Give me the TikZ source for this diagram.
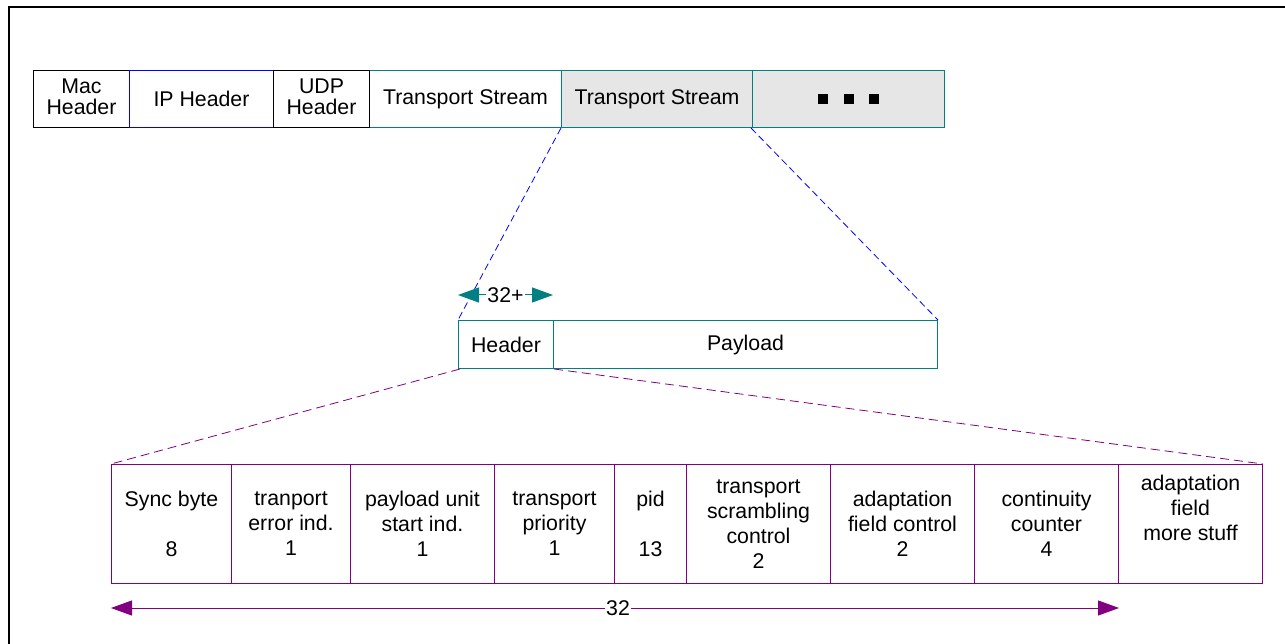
\documentclass[tikz,border=0pt]{standalone}
\usepackage{fontspec}
\setmainfont{Liberation Sans}
\usetikzlibrary{arrows.meta}
\definecolor{tealc}{RGB}{0,128,128}
\definecolor{purp}{RGB}{128,0,128}
\definecolor{blu}{RGB}{0,0,255}
\definecolor{grayf}{RGB}{230,230,230}
\begin{document}
\begin{tikzpicture}[x=1pt,y=-1pt,
  cell/.style={draw, line width=1pt, inner sep=0pt, anchor=north west, align=center,
    font=\fontsize{21.3}{21}\selectfont},
  topcell/.style={cell, minimum height=57pt},
  midcell/.style={cell, draw=tealc, minimum height=48pt},
  botcell/.style={cell, draw=purp, minimum height=119pt, font=\fontsize{21.3}{25}\selectfont},
  tsbox/.style={topcell, draw=tealc},
  zoomblue/.style={draw=blu, dashed, dash pattern=on 7pt off 4pt, line width=0.8pt},
  zoompurp/.style={draw=purp, dashed, dash pattern=on 9pt off 5pt, line width=0.8pt},
  dimarrow/.style={line width=1pt, {Triangle[length=21pt,width=15pt]}-{Triangle[length=21pt,width=15pt]}},
  dimlabel/.style={fill=white, inner sep=1pt, font=\fontsize{21.3}{21}\selectfont}
]
\useasboundingbox (0,0) rectangle (1285,644);
\fill[white] (0,0) rectangle (1285,644);
\draw[line width=2pt] (9,660) -- (9,7) -- (1300,7);

% top row
\node[tsbox, minimum width=192pt] (ts1) at (369,70) {Transport Stream};
\node[tsbox, fill=grayf, minimum width=191pt] (ts2) at (561,70) {Transport Stream};
\node[tsbox, fill=grayf, minimum width=192pt] (dots) at (752,70)
  {\rule{10pt}{10pt}\hspace{15.5pt}\rule{10pt}{10pt}\hspace{15.5pt}\rule{10pt}{10pt}};
\node[topcell, minimum width=96pt] (mac) at (33,70) {Mac\\Header\vphantom{p}};
\node[topcell, draw=blu, minimum width=144pt] (ip) at (129,70) {IP Header};
\node[topcell, minimum width=96pt] (udp) at (273,70) {UDP\\Header\vphantom{p}};

% middle row
\node[midcell, minimum width=95pt] (hdr) at (458,320) {Header};
\node[midcell, minimum width=384pt] (pay) at (553,320) {Payload};

% bottom row
\node[botcell, minimum width=120pt] (c1) at (111,464) {Sync byte\\ \\8};
\node[botcell, minimum width=119pt] (c2) at (231,464) {tranport\\error ind.\\1};
\node[botcell, minimum width=144pt] (c3) at (350,464) {payload unit\\start ind.\\1};
\node[botcell, minimum width=120pt] (c4) at (494,464) {transport\\priority\\1};
\node[botcell, minimum width=72pt] (c5) at (614,464) {pid\\ \\13};
\node[botcell, minimum width=144pt] (c6) at (686,464) {transport\\scrambling\\control\\2};
\node[botcell, minimum width=144pt] (c7) at (830,464) {adaptation\\field control\\2};
\node[botcell, minimum width=144pt] (c8) at (974,464) {continuity\\counter\\4};
\node[botcell, minimum width=144pt] (c9) at (1118,464) {adaptation\\field\\more stuff\\ \strut};

% zoom lines
\draw[zoomblue] (ts2.south west) -- (hdr.north west);
\draw[zoomblue] ([xshift=-2pt]ts2.south east) -- (pay.north east);
\draw[zoompurp] ([xshift=2pt]hdr.south west) -- (c1.north west);
\draw[zoompurp] (hdr.south east) -- (c9.north east);

% dimension arrows
\coordinate (h1) at ([yshift=25pt]hdr.north west);
\coordinate (h2) at ([yshift=25pt,xshift=-1pt]hdr.north east);
\draw[dimarrow, draw=tealc, fill=tealc] (h1) -- node[dimlabel] (lbl32p) {32+} (h2);

\coordinate (b1) at ([yshift=-24pt]c1.south west);
\coordinate (b2) at ([yshift=-24pt]c8.south east);
\draw[dimarrow, draw=purp, fill=purp] (b1) -- node[dimlabel, pos=0.503] (lbl32) {32} (b2);
\end{tikzpicture}
\end{document}
